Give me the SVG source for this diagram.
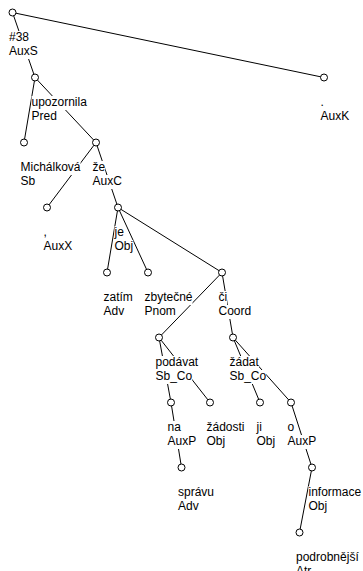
<svg xmlns="http://www.w3.org/2000/svg" width="363" height="571" viewBox="0 0 363 571">
<style>
.e line{stroke:#000;stroke-width:1}
.n circle{fill:#fff;stroke:#000;stroke-width:1}
.n rect{fill:#fff}
.n text{font-family:"Liberation Sans",Arial,sans-serif;font-size:12px;fill:#000}
</style>
<rect width="363" height="571" fill="#fff"/>
<g id="connectors" class="e">
<line x1="12.5" y1="12.5" x2="35" y2="77.5"/>
<line x1="12.5" y1="12.5" x2="324" y2="77.5"/>
<line x1="35" y1="77.5" x2="24" y2="142.5"/>
<line x1="35" y1="77.5" x2="96" y2="142.5"/>
<line x1="96" y1="142.5" x2="47" y2="207.5"/>
<line x1="96" y1="142.5" x2="118" y2="207.5"/>
<line x1="118" y1="207.5" x2="107" y2="272.5"/>
<line x1="118" y1="207.5" x2="148" y2="272.5"/>
<line x1="118" y1="207.5" x2="222" y2="272.5"/>
<line x1="222" y1="272.5" x2="159" y2="337.5"/>
<line x1="222" y1="272.5" x2="233" y2="337.5"/>
<line x1="159" y1="337.5" x2="171" y2="402.5"/>
<line x1="159" y1="337.5" x2="210" y2="402.5"/>
<line x1="233" y1="337.5" x2="260" y2="402.5"/>
<line x1="233" y1="337.5" x2="291" y2="402.5"/>
<line x1="171" y1="402.5" x2="181.5" y2="467.5"/>
<line x1="291" y1="402.5" x2="312" y2="467.5"/>
<line x1="312" y1="467.5" x2="299.5" y2="532.5"/>
</g>
<g id="n0" class="n"><circle cx="12.5" cy="12.5" r="3.5"/><rect x="9" y="31" width="20" height="14"/><text x="9" y="40.5">#38</text><rect x="9" y="45" width="28.7" height="14"/><text x="9" y="54.5">AuxS</text></g>
<g id="n1" class="n"><circle cx="35" cy="77.5" r="3.5"/><rect x="31.5" y="96" width="55.4" height="14"/><text x="31.5" y="105.5">upozornila</text><rect x="31.5" y="110" width="25.3" height="14"/><text x="31.5" y="119.5">Pred</text></g>
<g id="n2" class="n"><circle cx="324" cy="77.5" r="3.5"/><rect x="320.5" y="96" width="3.3" height="14"/><text x="320.5" y="105.5">.</text><rect x="320.5" y="110" width="28.7" height="14"/><text x="320.5" y="119.5">AuxK</text></g>
<g id="n3" class="n"><circle cx="24" cy="142.5" r="3.5"/><rect x="20.5" y="161" width="60" height="14"/><text x="20.5" y="170.5">Michálková</text><rect x="20.5" y="175" width="14.7" height="14"/><text x="20.5" y="184.5">Sb</text></g>
<g id="n4" class="n"><circle cx="96" cy="142.5" r="3.5"/><rect x="92.5" y="161" width="12.7" height="14"/><text x="92.5" y="170.5">že</text><rect x="92.5" y="175" width="29.3" height="14"/><text x="92.5" y="184.5">AuxC</text></g>
<g id="n5" class="n"><circle cx="47" cy="207.5" r="3.5"/><rect x="43.5" y="226" width="3.3" height="14"/><text x="43.5" y="235.5">,</text><rect x="43.5" y="240" width="28.7" height="14"/><text x="43.5" y="249.5">AuxX</text></g>
<g id="n6" class="n"><circle cx="118" cy="207.5" r="3.5"/><rect x="114.5" y="226" width="9.3" height="14"/><text x="114.5" y="235.5">je</text><rect x="114.5" y="240" width="18.7" height="14"/><text x="114.5" y="249.5">Obj</text></g>
<g id="n7" class="n"><circle cx="107" cy="272.5" r="3.5"/><rect x="103.5" y="291" width="29.3" height="14"/><text x="103.5" y="300.5">zatím</text><rect x="103.5" y="305" width="20.7" height="14"/><text x="103.5" y="314.5">Adv</text></g>
<g id="n8" class="n"><circle cx="148" cy="272.5" r="3.5"/><rect x="144.5" y="291" width="48" height="14"/><text x="144.5" y="300.5">zbytečné</text><rect x="144.5" y="305" width="31.3" height="14"/><text x="144.5" y="314.5">Pnom</text></g>
<g id="n9" class="n"><circle cx="222" cy="272.5" r="3.5"/><rect x="218.5" y="291" width="8.7" height="14"/><text x="218.5" y="300.5">či</text><rect x="218.5" y="305" width="32.7" height="14"/><text x="218.5" y="314.5">Coord</text></g>
<g id="n10" class="n"><circle cx="159" cy="337.5" r="3.5"/><rect x="155.5" y="356" width="42.7" height="14"/><text x="155.5" y="365.5">podávat</text><rect x="155.5" y="370" width="36.7" height="14"/><text x="155.5" y="379.5">Sb_Co</text></g>
<g id="n11" class="n"><circle cx="233" cy="337.5" r="3.5"/><rect x="229.5" y="356" width="29.4" height="14"/><text x="229.5" y="365.5">žádat</text><rect x="229.5" y="370" width="36.7" height="14"/><text x="229.5" y="379.5">Sb_Co</text></g>
<g id="n12" class="n"><circle cx="171" cy="402.5" r="3.5"/><rect x="167.5" y="421" width="13.3" height="14"/><text x="167.5" y="430.5">na</text><rect x="167.5" y="435" width="28.7" height="14"/><text x="167.5" y="444.5">AuxP</text></g>
<g id="n13" class="n"><circle cx="210" cy="402.5" r="3.5"/><rect x="206.5" y="421" width="38" height="14"/><text x="206.5" y="430.5">žádosti</text><rect x="206.5" y="435" width="18.7" height="14"/><text x="206.5" y="444.5">Obj</text></g>
<g id="n14" class="n"><circle cx="260" cy="402.5" r="3.5"/><rect x="256.5" y="421" width="5.3" height="14"/><text x="256.5" y="430.5">ji</text><rect x="256.5" y="435" width="18.7" height="14"/><text x="256.5" y="444.5">Obj</text></g>
<g id="n15" class="n"><circle cx="291" cy="402.5" r="3.5"/><rect x="287.5" y="421" width="6.7" height="14"/><text x="287.5" y="430.5">o</text><rect x="287.5" y="435" width="28.7" height="14"/><text x="287.5" y="444.5">AuxP</text></g>
<g id="n16" class="n"><circle cx="181.5" cy="467.5" r="3.5"/><rect x="178" y="486" width="36" height="14"/><text x="178" y="495.5">správu</text><rect x="178" y="500" width="20.7" height="14"/><text x="178" y="509.5">Adv</text></g>
<g id="n17" class="n"><circle cx="312" cy="467.5" r="3.5"/><rect x="308.5" y="486" width="52.7" height="14"/><text x="308.5" y="495.5">informace</text><rect x="308.5" y="500" width="18.7" height="14"/><text x="308.5" y="509.5">Obj</text></g>
<g id="n18" class="n"><circle cx="299.5" cy="532.5" r="3.5"/><rect x="296" y="551" width="66" height="14"/><text x="296" y="560.5">podrobnější</text><rect x="296" y="565" width="15.3" height="14"/><text x="296" y="574.5">Atr</text></g>
</svg>
